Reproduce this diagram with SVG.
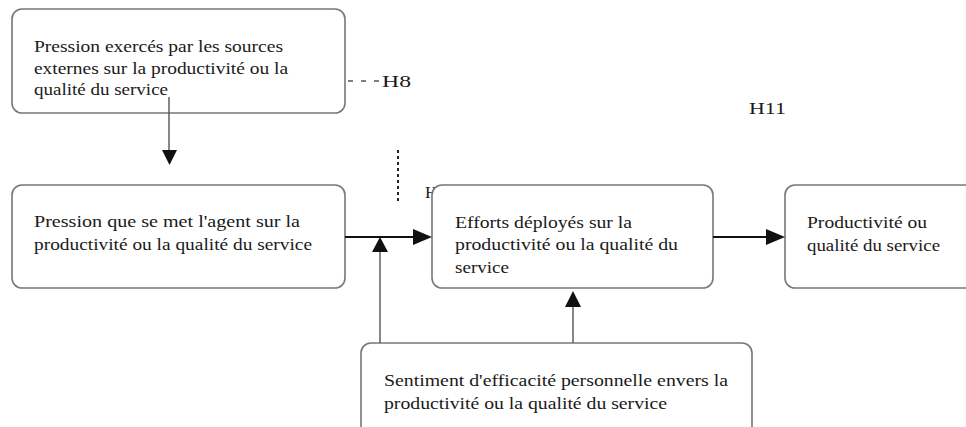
<svg xmlns="http://www.w3.org/2000/svg" width="966" height="427" viewBox="0 0 966 427">
  <style>
    .box { fill: #ffffff; stroke: #777777; stroke-width: 1.6; }
    .lbl { font-family: "Liberation Serif", "Times New Roman", serif; font-size: 16px; fill: #1a1a1a; }
    .hyp { font-family: "Liberation Serif", "Times New Roman", serif; font-size: 17px; fill: #1a1a1a; }
    .main { stroke: #111111; stroke-width: 2; fill: none; }
    .thin { stroke: #555555; stroke-width: 1.4; fill: none; }
    .head { fill: #111111; }
  </style>
  <rect width="966" height="427" fill="#ffffff"/>

  <!-- hypothesis markers -->
  <g id="hypotheses">
    <line x1="348" y1="81" x2="382" y2="81" stroke="#555555" stroke-width="1.4" stroke-dasharray="5 8"/>
    <text class="hyp" x="382" y="87" textLength="29" lengthAdjust="spacingAndGlyphs">H8</text>
    <text class="hyp" x="749" y="114" textLength="37" lengthAdjust="spacingAndGlyphs">H11</text>
    <line x1="398" y1="150" x2="398" y2="203" stroke="#222222" stroke-width="2" stroke-dasharray="3 3"/>
    <text class="hyp" x="425" y="198">H</text>
  </g>

  <g id="external-pressure">
    <rect class="box" x="12" y="9" width="333" height="104" rx="10" ry="10"/>
    <text class="lbl" x="34" y="52" textLength="249" lengthAdjust="spacingAndGlyphs">Pression exercés par les sources</text>
    <text class="lbl" x="34" y="74" textLength="254" lengthAdjust="spacingAndGlyphs">externes sur la productivité ou la</text>
    <text class="lbl" x="34" y="95" textLength="134" lengthAdjust="spacingAndGlyphs">qualité du service</text>
  </g>

  <g id="self-pressure">
    <rect class="box" x="12" y="185" width="333" height="103" rx="10" ry="10"/>
    <text class="lbl" x="34" y="227" textLength="266" lengthAdjust="spacingAndGlyphs">Pression que se met l'agent sur la</text>
    <text class="lbl" x="34" y="250" textLength="278" lengthAdjust="spacingAndGlyphs">productivité ou la qualité du service</text>
  </g>

  <g id="efforts">
    <rect class="box" x="432" y="185" width="281" height="103" rx="10" ry="10"/>
    <text class="lbl" x="455" y="228" textLength="177" lengthAdjust="spacingAndGlyphs">Efforts déployés sur la</text>
    <text class="lbl" x="455" y="250" textLength="223" lengthAdjust="spacingAndGlyphs">productivité ou la qualité du</text>
    <text class="lbl" x="455" y="273" textLength="54" lengthAdjust="spacingAndGlyphs">service</text>
  </g>

  <g id="productivity">
    <rect class="box" x="785" y="185" width="220" height="103" rx="10" ry="10"/>
    <text class="lbl" x="807" y="228" textLength="120" lengthAdjust="spacingAndGlyphs">Productivité ou</text>
    <text class="lbl" x="807" y="251" textLength="133" lengthAdjust="spacingAndGlyphs">qualité du service</text>
  </g>

  <g id="self-efficacy">
    <rect class="box" x="361" y="343" width="391" height="100" rx="10" ry="10"/>
    <text class="lbl" x="384" y="386" textLength="344" lengthAdjust="spacingAndGlyphs">Sentiment d'efficacité personnelle envers la</text>
    <text class="lbl" x="384" y="409" textLength="283" lengthAdjust="spacingAndGlyphs">productivité ou la qualité du service</text>
  </g>

  <g id="connectors">
    <!-- external pressure to self pressure -->
    <line class="thin" x1="169" y1="97" x2="169" y2="151"/>
    <polygon class="head" points="162,150 177,150 169.5,165"/>
    <!-- self pressure to efforts -->
    <line class="main" x1="345" y1="237" x2="414" y2="237"/>
    <polygon class="head" points="413,229 432,237 413,245"/>
    <!-- efforts to productivity -->
    <line class="main" x1="713" y1="237" x2="767" y2="237"/>
    <polygon class="head" points="766,229 785,237 766,245"/>
    <!-- self-efficacy moderating the pressure link -->
    <line class="thin" x1="380" y1="343" x2="380" y2="251"/>
    <polygon class="head" points="372,252 388,252 380,237"/>
    <!-- self-efficacy to efforts -->
    <line class="thin" x1="573" y1="343" x2="573" y2="306"/>
    <polygon class="head" points="565,307 581,307 573,291"/>
  </g>
</svg>
